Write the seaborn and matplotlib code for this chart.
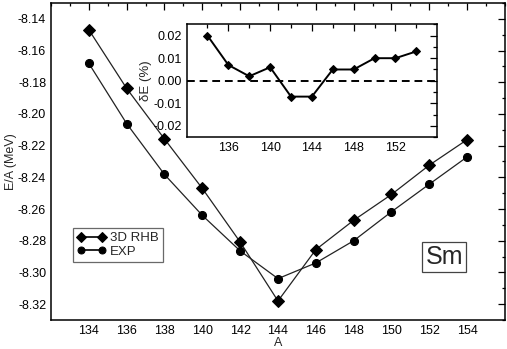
import matplotlib
matplotlib.use("Agg")
import matplotlib.pyplot as plt
import seaborn as sns
import pandas as pd
from matplotlib.ticker import MultipleLocator, FixedLocator

sns.set_theme(style="white")
plt.rcParams['font.family'] = ['Liberation Sans', 'DejaVu Sans']

A = [134, 136, 138, 140, 142, 144, 146, 148, 150, 152, 154]
rhb = [-8.1469, -8.1839, -8.2158, -8.2470, -8.2808, -8.3180, -8.2856, -8.2671, -8.2508, -8.2323, -8.2162]
exp = [-8.1681, -8.2061, -8.2382, -8.2640, -8.2864, -8.3039, -8.2940, -8.2800, -8.2617, -8.2443, -8.2271]
dE = [0.020, 0.007, 0.002, 0.006, -0.007, -0.007, 0.005, 0.005, 0.010, 0.010, 0.013]

fig = plt.figure(figsize=(5.07, 3.49), dpi=100)
ax = fig.add_axes([0.1006, 0.0831, 0.8954, 0.9083])

df1 = pd.DataFrame({'A': A, 'E': rhb})
df2 = pd.DataFrame({'A': A, 'E': exp})
sns.lineplot(data=df1, x='A', y='E', ax=ax, color='#222222', lw=0.9, marker='D',
             markersize=6, markerfacecolor='black', markeredgecolor='black', label='3D RHB')
sns.lineplot(data=df2, x='A', y='E', ax=ax, color='#222222', lw=0.9, marker='o',
             markersize=5.8, markerfacecolor='black', markeredgecolor='black', label='EXP')

ax.set_xlim(132, 156)
ax.set_ylim(-8.33, -8.13)
ax.xaxis.set_major_locator(FixedLocator(list(range(134, 156, 2))))
ax.xaxis.set_minor_locator(MultipleLocator(1))
ax.yaxis.set_major_locator(MultipleLocator(0.02))
ax.yaxis.set_minor_locator(MultipleLocator(0.01))
ax.yaxis.set_major_formatter(matplotlib.ticker.FuncFormatter(lambda v, p: f"{v:.2f}".replace('\u2212', '-')))
ax.tick_params(which='both', direction='in', top=True, right=True, colors='black',
               labelsize=9, width=0.9)
ax.tick_params(which='major', length=5)
ax.tick_params(which='minor', length=2.5)
for s in ax.spines.values():
    s.set_color('black'); s.set_linewidth(1.1)
ax.set_xlabel('A', fontsize=9, labelpad=0)
ax.set_ylabel('E/A (MeV)', fontsize=9, labelpad=1)

leg = ax.legend(loc='upper left', bbox_to_anchor=(0.0485, 0.290), borderaxespad=0,
                fontsize=9.5, numpoints=2, frameon=True, fancybox=False,
                handlelength=2.2, handletextpad=0.3, labelspacing=0.1,
                borderpad=0.3)
leg.get_frame().set_edgecolor('#444444')
leg.get_frame().set_linewidth(0.9)
for h in leg.get_lines():
    h.set_markersize(5)
    h.set_linewidth(1.2)
    h.set_color('black')

ax.text(0.866, 0.199, 'Sm', transform=ax.transAxes, ha='center', va='center', fontsize=18,
        bbox=dict(boxstyle='square,pad=0.12', fc='white', ec='#444444', lw=0.9))

ins = fig.add_axes([0.368, 0.6066, 0.4943, 0.3238])
df3 = pd.DataFrame({'A': A, 'dE': dE})
sns.lineplot(data=df3, x='A', y='dE', ax=ins, color='black', lw=1.4, marker='D',
             markersize=4.5, markerfacecolor='black', markeredgecolor='black')
ins.axhline(0, color='black', lw=1.4, ls=(0, (4, 2.5)))
ins.set_xlim(132, 156)
ins.set_ylim(-0.025, 0.025)
ins.xaxis.set_major_locator(FixedLocator([136, 140, 144, 148, 152]))
ins.xaxis.set_minor_locator(FixedLocator([134, 138, 142, 146, 150, 154]))
ins.yaxis.set_major_locator(MultipleLocator(0.01))
ins.yaxis.set_minor_locator(MultipleLocator(0.005))
ins.yaxis.set_major_formatter(matplotlib.ticker.FuncFormatter(lambda v, p: f"{v:.2f}".replace('\u2212', '-') if abs(v) > 1e-9 else "0.00"))
ins.tick_params(which='both', direction='in', top=True, right=True, colors='black',
                labelsize=9, width=0.9)
ins.tick_params(which='major', length=5)
ins.tick_params(which='minor', length=3)
for s in ins.spines.values():
    s.set_color('black'); s.set_linewidth(1.1)
ins.set_xlabel('')
ins.set_ylabel('δE (%)', fontsize=9.5, labelpad=1)

fig.savefig('out.png', dpi=100)
